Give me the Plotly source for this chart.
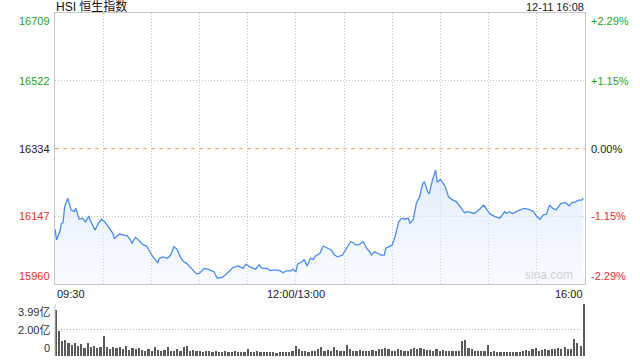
import plotly.graph_objects as go

# ---------------- data ----------------
title_text = "HSI 恒生指数"
stamp_text = "12-11 16:08"
prev_close = 16334

price_times = [
    "09:30","09:31","09:33","09:34","09:35","09:36","09:38","09:39","09:40","09:42",
    "09:43","09:45","09:47","09:49","09:51","09:52","09:54","09:55","09:57","09:59",
    "10:01","10:03","10:05","10:06","10:07","10:08","10:10","10:13","10:15","10:17",
    "10:18","10:20","10:21","10:23","10:25","10:27","10:29","10:31","10:34","10:35",
    "10:37","10:40","10:42","10:44","10:46","10:48","10:50","10:52","10:55","10:58",
    "11:00","11:03","11:05","11:09","11:11","11:14","11:16","11:18","11:21","11:24",
    "11:27","11:29","11:31","11:35","11:37","11:39","11:42","11:44","11:47","11:50",
    "11:52","11:54","11:57","11:58","12:00","13:01","13:04","13:05","13:07","13:09",
    "13:11","13:12","13:15","13:17","13:20","13:22","13:24","13:26","13:29","13:31",
    "13:33","13:34","13:36","13:37","13:39","13:42","13:44","13:46","13:47","13:49",
    "13:51","13:53","13:55","13:56","14:00","14:02","14:04","14:06","14:08","14:10",
    "14:11","14:13","14:15","14:17","14:19","14:20","14:22","14:23","14:25","14:27",
    "14:28","14:30","14:31","14:33","14:35","14:37","14:40","14:42","14:45","14:47",
    "14:51","14:54","14:57","14:59","15:01","15:04","15:07","15:10","15:11","15:13",
    "15:15","15:17","15:22","15:25","15:28","15:30","15:32","15:34","15:36","15:38",
    "15:40","15:42","15:45","15:48","15:50","15:52","15:54","15:56","15:58","15:59",
]
prices = [
    16112,16082,16105,16128,16129,16174,16197,16184,16165,16160,
    16169,16139,16142,16132,16148,16135,16118,16109,16128,16139,
    16132,16118,16105,16100,16086,16089,16098,16095,16093,16082,
    16072,16089,16086,16077,16068,16065,16049,16035,16019,16031,
    16035,16031,16040,16063,16056,16035,16022,16017,16003,15988,
    15990,16003,16001,15994,15976,15978,15985,15994,16006,16010,
    16003,16015,16008,16001,16013,16003,16003,15997,15999,15997,
    15991,15996,15996,16001,15994,16015,16022,16028,16010,16031,
    16028,16037,16045,16065,16059,16054,16040,16035,16040,16054,
    16068,16077,16074,16068,16068,16077,16059,16049,16040,16049,
    16045,16040,16040,16059,16068,16095,16132,16142,16139,16142,
    16128,16137,16183,16201,16238,16243,16215,16209,16247,16275,
    16241,16249,16243,16229,16201,16194,16187,16174,16157,16160,
    16155,16165,16178,16165,16153,16146,16142,16160,16155,16160,
    16155,16160,16169,16166,16160,16146,16139,16151,16153,16178,
    16169,16165,16183,16185,16176,16185,16187,16192,16192,16197,
]

# volume (亿), one bar every two trading minutes from 09:30
vol_step_minutes = 2
volumes = [
    3.50,1.90,1.15,1.20,1.00,0.85,1.00,0.78,0.92,0.65,
    1.00,0.68,0.76,0.60,0.70,1.54,0.72,0.55,0.68,0.60,
    0.66,0.52,0.74,0.48,0.62,0.55,0.64,0.45,0.42,0.55,
    0.40,0.72,0.45,0.38,0.48,0.67,0.42,0.36,0.50,0.40,
    0.67,0.77,0.40,0.45,0.36,0.42,0.33,0.38,0.35,0.32,
    0.38,0.30,0.34,0.36,0.30,0.33,0.36,0.30,0.34,0.28,
    0.50,0.30,0.33,0.36,0.30,0.32,0.28,0.33,0.30,0.26,
    0.30,0.28,0.32,0.30,0.35,0.77,0.50,0.42,0.38,0.30,
    0.40,0.36,0.50,0.67,0.40,0.45,0.36,0.67,0.45,0.40,
    0.42,0.85,0.50,0.42,0.40,0.45,0.38,0.40,0.36,0.45,
    0.40,0.50,0.55,0.60,0.50,0.42,0.38,0.54,0.48,0.36,
    0.40,0.55,0.60,0.50,0.65,0.55,0.48,0.45,0.40,0.50,
    0.38,0.45,0.36,0.40,0.42,0.35,0.38,1.15,1.23,0.60,
    0.50,0.42,0.38,0.35,0.40,0.85,0.33,0.36,0.30,0.33,
    0.30,0.28,0.32,0.30,0.28,0.33,0.38,0.45,0.40,0.50,
    0.60,0.40,0.45,0.50,0.48,0.55,0.50,0.60,0.55,0.67,
    0.50,0.55,1.30,1.00,0.77,3.99,
]

price_levels = [16709, 16522, 16334, 16147, 15960]
pct_labels = ["+2.29%", "+1.15%", "0.00%", "-1.15%", "-2.29%"]
vol_levels = [3.99, 2.00, 0]
vol_labels = ["3.99亿", "2.00亿", "0"]
x_tick_labels = ["09:30", "12:00/13:00", "16:00"]
x_tick_times = ["09:30", "12:00", "16:00"]

# ---------------- helpers ----------------
def to_idx(t):
    h, m = map(int, t.split(":"))
    mins = h * 60 + m
    if mins <= 720:
        return mins - 570
    return 150 + mins - 780

px = [to_idx(t) for t in price_times]
vx = [i * vol_step_minutes for i in range(len(volumes))]

GREEN = "#1fa51f"
RED = "#ee2f2f"
BLACK = "#222222"
FONT = "Arial, 'Liberation Sans', 'Noto Sans CJK SC', sans-serif"
DOTS = "1px,2px"

def level_color(v):
    if v > prev_close:
        return GREEN
    if v < prev_close:
        return RED
    return BLACK

fig = go.Figure()

fig.add_trace(go.Scatter(
    x=px, y=prices, mode="lines",
    line=dict(color="#4d8cf5", width=1.3),
    fill="tozeroy",
    fillgradient=dict(type="vertical",
                      colorscale=[[0, "rgba(235,243,255,0.35)"], [1, "rgba(215,230,252,0.75)"]],
                      start=15960, stop=16280),
    hoverinfo="skip", xaxis="x", yaxis="y",
))

fig.add_trace(go.Bar(
    x=vx, y=volumes, marker=dict(color="#5a5a5a", line=dict(width=0)),
    width=1.05, xaxis="x2", yaxis="y2", hoverinfo="skip",
))

main_bottom = (356 - 284) / 343
vol_top = (356 - 304) / 343

fig.update_layout(
    width=640, height=360,
    margin=dict(l=55, r=55, t=13, b=4),
    paper_bgcolor="white", plot_bgcolor="white",
    showlegend=False,
    font=dict(family=FONT, size=11, color=BLACK),
    xaxis=dict(domain=[0, 1], range=[0, 330], tickvals=list(range(0, 331, 30)),
               showticklabels=False, showgrid=True, gridcolor="#c4c4c4", griddash=DOTS,
               gridwidth=1, zeroline=False, showline=True, linecolor="#c8c8c8",
               linewidth=1, mirror=True, ticks=""),
    yaxis=dict(domain=[main_bottom, 1], range=[15960, 16709],
               tickvals=[v for v in price_levels if v != prev_close],
               showticklabels=False, showgrid=True, gridcolor="#c4c4c4", griddash=DOTS,
               zeroline=False, showline=True, linecolor="#c8c8c8", linewidth=1,
               mirror=True, ticks=""),
    xaxis2=dict(domain=[0, 1], range=[-0.6, 330.6], anchor="y2", showticklabels=False,
                showgrid=False, zeroline=False, showline=False, ticks=""),
    yaxis2=dict(domain=[0, vol_top], range=[0, 3.99], anchor="x2",
                tickvals=vol_levels[:2], showticklabels=False, showgrid=True,
                gridcolor="#b8b8b8", griddash=DOTS, zeroline=False,
                showline=False, ticks=""),
    bargap=0,
)

# left border of volume panel
fig.add_shape(type="line", xref="paper", yref="paper", x0=0, x1=0, y0=0, y1=vol_top,
              line=dict(color="#c8c8c8", width=1))
# previous close line
fig.add_shape(type="line", xref="paper", yref="y", x0=0, x1=1, y0=prev_close, y1=prev_close,
              line=dict(color="#f5a05a", width=1, dash="4px,4px"))

ann = []
# title and stamp
ann.append(dict(text=title_text, xref="paper", yref="paper", x=0, y=1, yshift=7,
                xanchor="left", yanchor="middle", showarrow=False, borderpad=0,
                font=dict(size=12, color="#111111")))
ann.append(dict(text=stamp_text, xref="paper", yref="paper", x=1, y=1, yshift=6,
                xanchor="right", yanchor="middle", showarrow=False, borderpad=0,
                font=dict(size=11, color="#222222")))
# price labels
for i, (v, p) in enumerate(zip(price_levels, pct_labels)):
    ya = "top" if i == 0 else ("bottom" if i == len(price_levels) - 1 else "middle")
    c = level_color(v)
    ann.append(dict(text=str(v), xref="paper", yref="y", x=0, y=v, xshift=-3,
                    xanchor="right", yanchor=ya, showarrow=False,
                    font=dict(size=11, color=c)))
    ann.append(dict(text=p, xref="paper", yref="y", x=1, y=v, xshift=4,
                    xanchor="left", yanchor=ya, showarrow=False,
                    font=dict(size=11, color=c)))
# volume labels
for i, (v, t) in enumerate(zip(vol_levels, vol_labels)):
    ya = "top" if i == 0 else ("bottom" if i == len(vol_levels) - 1 else "middle")
    ann.append(dict(text=t, xref="paper", yref="y2", x=0, y=v, xshift=-3,
                    xanchor="right", yanchor=ya, showarrow=False,
                    font=dict(size=11, color="#333333")))
# x labels
for t, lab in zip(x_tick_times, x_tick_labels):
    xi = to_idx(t)
    xa = "left" if xi == 0 else ("right" if xi == 330 else "center")
    ann.append(dict(text=lab, xref="x", yref="paper", x=xi, y=main_bottom, yshift=-2,
                    xanchor=xa, yanchor="top", showarrow=False,
                    font=dict(size=11, color="#222222")))
# watermark
ann.append(dict(text="sina.com", xref="paper", yref="y", x=1, y=15960, xshift=-10,
                xanchor="right", yanchor="bottom", showarrow=False,
                font=dict(size=12, color="#d0d0d0")))

fig.update_layout(annotations=ann)

fig.write_html("out.html", config={"displayModeBar": False},
               post_script="document.body.style.margin='0';")
